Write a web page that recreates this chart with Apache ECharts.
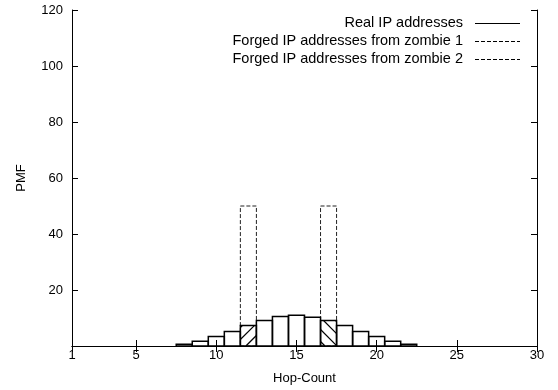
<!DOCTYPE html>
<html>
<head>
<meta charset="utf-8">
<script src="https://cdn.jsdelivr.net/npm/echarts@6/dist/echarts.min.js"></script>
<style>html,body{margin:0;padding:0;background:#fff}#c{width:558px;height:390px}</style>
</head>
<body>
<div id="c"></div>
<script>
// ---- data ----
var hops = [8, 9, 10, 11, 12, 13, 14, 15, 16, 17, 18, 19, 20, 21, 22];
var realPMF = [0.6, 1.7, 3.4, 5.2, 7.3, 9.1, 10.5, 11.0, 10.3, 9.1, 7.3, 5.2, 3.4, 1.7, 0.6];
var zombie1Hops = [12];
var zombie1PMF = [50];
var zombie2Hops = [17];
var zombie2PMF = [50];
var xTicks = [1, 5, 10, 15, 20, 25, 30];
var yTicks = [20, 40, 60, 80, 100, 120];
var legendNames = ['Real IP addresses', 'Forged IP addresses from zombie 1', 'Forged IP addresses from zombie 2'];

function realHeightAt(h) {
  var i = hops.indexOf(h);
  return i >= 0 ? realPMF[i] : 0;
}

function hatchLines(x0, y0, x1, y1, dir, step) {
  var out = [];
  var k, xa, xb;
  if (dir === 1) { // "/" : x + y = k
    for (k = x0 + y1 - 6.5 - step * 3; k < x1 + y1; k += step) {
      xa = Math.max(x0, k - y1); xb = Math.min(x1, k - y0);
      if (xb - xa > 0.5) out.push([xa, k - xa, xb, k - xb]);
    }
  } else { // "\" : x - y = k
    for (k = x0 - y0 + 3 - step * 3; k < x1 - y0; k += step) {
      xa = Math.max(x0, k + y0); xb = Math.min(x1, k + y1);
      if (xb - xa > 0.5) out.push([xa, xa - k, xb, xb - k]);
    }
  }
  return out;
}

function makeBarRender(kind, dir) {
  return function (params, api) {
    var x = api.value(0), y = api.value(1);
    var p0 = api.coord([x - 0.5, y]);
    var p1 = api.coord([x + 0.5, 0]);
    var children = [];
    var shapeRect = { x: p0[0], y: p0[1], width: p1[0] - p0[0], height: p1[1] - p0[1] };
    if (kind === 'real') {
      children.push({ type: 'rect', shape: shapeRect,
        style: { fill: 'none', stroke: '#000', lineWidth: 1.5 } });
    } else {
      children.push({ type: 'rect', shape: shapeRect,
        style: { fill: 'none', stroke: '#222', lineWidth: 1, lineDash: [4, 2] } });
      var rh = realHeightAt(x);
      var q0 = api.coord([x - 0.5, rh]);
      var lines = hatchLines(q0[0], q0[1], p1[0], p1[1], dir, 12);
      lines.forEach(function (l) {
        children.push({ type: 'line', z2: 5, shape: { x1: l[0], y1: l[1], x2: l[2], y2: l[3] },
          style: { stroke: '#000', lineWidth: 1.2 } });
      });
    }
    return { type: 'group', children: children };
  };
}

function pairs(xs, ys) { return xs.map(function (v, i) { return [v, ys[i]]; }); }

var chart = echarts.init(document.getElementById('c'), null, { renderer: 'canvas' });
var font = 'Liberation Sans, Arial, Helvetica, sans-serif';
var fs = 13;
var lfs = 14.5;

var option = {
  animation: false,
  backgroundColor: '#fff',
  grid: { left: 72, right: 21, top: 10, bottom: 44 },
  xAxis: [{
    type: 'value', min: 1, max: 30,
    name: 'Hop-Count', nameLocation: 'middle', nameGap: 26,
    nameTextStyle: { color: '#000', fontFamily: font, fontSize: fs },
    axisLine: { lineStyle: { color: '#000', width: 1 } },
    axisTick: { inside: true, length: 6, lineStyle: { color: '#000' }, customValues: xTicks },
    axisLabel: { color: '#000', fontFamily: font, fontSize: fs, margin: 3, customValues: xTicks },
    splitLine: { show: false }
  }, {
    type: 'value', min: 1, max: 30, position: 'top',
    axisLine: { lineStyle: { color: '#000', width: 1 } },
    axisTick: { inside: true, length: 6, lineStyle: { color: '#000' }, customValues: xTicks },
    axisLabel: { show: false },
    splitLine: { show: false }
  }],
  yAxis: [{
    type: 'value', min: 0, max: 120,
    name: 'PMF', nameLocation: 'middle', nameGap: 44,
    nameTextStyle: { color: '#000', fontFamily: font, fontSize: fs },
    axisLine: { show: true, lineStyle: { color: '#000', width: 1 } },
    axisTick: { show: true, inside: true, length: 6, lineStyle: { color: '#000' }, customValues: yTicks },
    axisLabel: { color: '#000', fontFamily: font, fontSize: fs, margin: 9, customValues: yTicks },
    splitLine: { show: false }
  }, {
    type: 'value', min: 0, max: 120, position: 'right',
    axisLine: { show: true, lineStyle: { color: '#000', width: 1 } },
    axisTick: { show: true, inside: true, length: 6, lineStyle: { color: '#000' }, customValues: yTicks },
    axisLabel: { show: false },
    splitLine: { show: false }
  }],
  series: [{
    name: legendNames[1], type: 'custom', z: 2,
    renderItem: makeBarRender('zombie', 1),
    data: pairs(zombie1Hops, zombie1PMF)
  }, {
    name: legendNames[2], type: 'custom', z: 2,
    renderItem: makeBarRender('zombie', -1),
    data: pairs(zombie2Hops, zombie2PMF)
  }, {
    name: legendNames[0], type: 'custom', z: 3,
    renderItem: makeBarRender('real', 0),
    data: pairs(hops, realPMF)
  }],
  graphic: [
    { type: 'text', right: 95, top: 15, style: { text: legendNames[0], fill: '#000', font: lfs + 'px ' + font, textAlign: 'right' } },
    { type: 'text', right: 95, top: 33, style: { text: legendNames[1], fill: '#000', font: lfs + 'px ' + font, textAlign: 'right' } },
    { type: 'text', right: 95, top: 51, style: { text: legendNames[2], fill: '#000', font: lfs + 'px ' + font, textAlign: 'right' } },
    { type: 'line', shape: { x1: 475, y1: 23.5, x2: 520, y2: 23.5 }, style: { stroke: '#000', lineWidth: 1 } },
    { type: 'line', shape: { x1: 475, y1: 41.5, x2: 520, y2: 41.5 }, style: { stroke: '#000', lineWidth: 1, lineDash: [4, 2] } },
    { type: 'line', shape: { x1: 475, y1: 59.5, x2: 520, y2: 59.5 }, style: { stroke: '#000', lineWidth: 1, lineDash: [4, 2] } }
  ]
};
chart.setOption(option);
</script>
</body>
</html>
